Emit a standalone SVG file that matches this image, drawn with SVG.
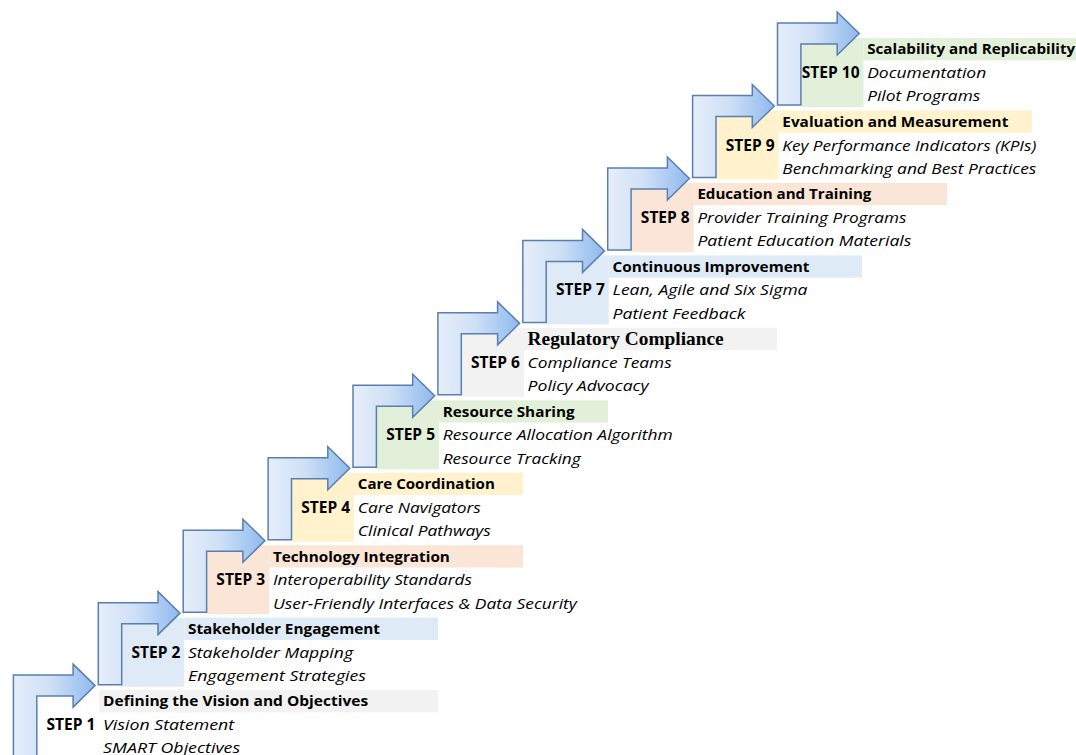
<svg xmlns="http://www.w3.org/2000/svg" xmlns:xlink="http://www.w3.org/1999/xlink" width="1076" height="755" viewBox="0 0 1076 755">
  <defs>
    <linearGradient id="arrowFill" x1="0" y1="0" x2="1" y2="0">
      <stop offset="0" stop-color="#e6eefa"/>
      <stop offset="0.45" stop-color="#cfe0f6"/>
      <stop offset="1" stop-color="#8fb9ee"/>
    </linearGradient>
    <!-- bent arrow: stem rises, then turns right into the arrowhead -->
    <path id="bentArrow" d="M0,82 L0,0 L59.7,0 L59.7,-11 L81.7,10.5 L59.7,32 L59.7,21 L23.4,21 L23.4,82 Z"/>
  </defs>
  <style>
    .arrow { fill: url(#arrowFill); stroke: #5a7fae; stroke-width: 1.5; stroke-linejoin: miter; }
    .step { font-family: "Open Sans", "Noto Sans", sans-serif; font-weight: bold; font-size: 15.5px; fill: #000; text-anchor: end; }
    .title { font-family: "Open Sans", "Noto Sans", sans-serif; font-weight: bold; font-size: 15px; fill: #000; }
    .serifTitle { font-family: "Liberation Serif", "Times New Roman", serif; font-weight: bold; font-size: 19.5px; fill: #000; }
    .item { font-family: "Open Sans", "Noto Sans", sans-serif; font-style: italic; font-size: 15px; fill: #000; }
    .gray { fill: #f2f2f2; }
    .blue { fill: #deebf7; }
    .peach { fill: #fbe5d6; }
    .yellow { fill: #fff2cc; }
    .green { fill: #e2f0d9; }
  </style>

  <rect width="1076" height="755" fill="#ffffff"/>

  <!-- shaded cells -->
  <g id="step1">
    <rect class="gray" x="99.4" y="690.1" width="338.6" height="22.3"/>
    <text class="step" x="95.4" y="730.1">STEP 1</text>
    <text class="title" x="103.1" y="706.4" textLength="265" lengthAdjust="spacingAndGlyphs">Defining the Vision and Objectives</text>
    <text class="item" x="103.1" y="730.1" textLength="131" lengthAdjust="spacingAndGlyphs">Vision Statement</text>
    <text class="item" x="103.1" y="753.4" textLength="137" lengthAdjust="spacingAndGlyphs">SMART Objectives</text>
  </g>

  <g id="step2">
    <rect class="blue" x="121.7" y="617.65" width="62.6" height="69"/>
    <rect class="blue" x="184.3" y="617.65" width="253.7" height="22.3"/>
    <text class="step" x="180.3" y="657.65">STEP 2</text>
    <text class="title" x="188" y="633.95" textLength="192" lengthAdjust="spacingAndGlyphs">Stakeholder Engagement</text>
    <text class="item" x="188" y="657.65" textLength="165" lengthAdjust="spacingAndGlyphs">Stakeholder Mapping</text>
    <text class="item" x="188" y="680.95" textLength="178" lengthAdjust="spacingAndGlyphs">Engagement Strategies</text>
  </g>

  <g id="step3">
    <rect class="peach" x="206.6" y="545.2" width="62.6" height="69"/>
    <rect class="peach" x="269.2" y="545.2" width="253.8" height="22.3"/>
    <text class="step" x="265.2" y="585.2">STEP 3</text>
    <text class="title" x="272.9" y="561.5" textLength="177" lengthAdjust="spacingAndGlyphs">Technology Integration</text>
    <text class="item" x="272.9" y="585.2" textLength="199" lengthAdjust="spacingAndGlyphs">Interoperability Standards</text>
    <text class="item" x="272.9" y="608.5" textLength="304" lengthAdjust="spacingAndGlyphs">User-Friendly Interfaces &amp; Data Security</text>
  </g>

  <g id="step4">
    <rect class="yellow" x="291.5" y="472.75" width="62.6" height="69"/>
    <rect class="yellow" x="354.1" y="472.75" width="168.9" height="22.3"/>
    <text class="step" x="350.1" y="512.75">STEP 4</text>
    <text class="title" x="357.8" y="489.05" textLength="137" lengthAdjust="spacingAndGlyphs">Care Coordination</text>
    <text class="item" x="357.8" y="512.75" textLength="123" lengthAdjust="spacingAndGlyphs">Care Navigators</text>
    <text class="item" x="357.8" y="536.05" textLength="133" lengthAdjust="spacingAndGlyphs">Clinical Pathways</text>
  </g>

  <g id="step5">
    <rect class="green" x="376.4" y="400.3" width="62.6" height="69"/>
    <rect class="green" x="439" y="400.3" width="169" height="22.3"/>
    <text class="step" x="435" y="440.3">STEP 5</text>
    <text class="title" x="442.7" y="416.6" textLength="132" lengthAdjust="spacingAndGlyphs">Resource Sharing</text>
    <text class="item" x="442.7" y="440.3" textLength="230" lengthAdjust="spacingAndGlyphs">Resource Allocation Algorithm</text>
    <text class="item" x="442.7" y="463.6" textLength="138" lengthAdjust="spacingAndGlyphs">Resource Tracking</text>
  </g>

  <g id="step6">
    <rect class="gray" x="461.3" y="327.85" width="62.6" height="69"/>
    <rect class="gray" x="523.9" y="327.85" width="253.1" height="22.3"/>
    <text class="step" x="519.9" y="367.85">STEP 6</text>
    <text class="serifTitle" x="527.6" y="344.9" textLength="196" lengthAdjust="spacingAndGlyphs">Regulatory Compliance</text>
    <text class="item" x="527.6" y="367.85" textLength="144" lengthAdjust="spacingAndGlyphs">Compliance Teams</text>
    <text class="item" x="527.6" y="391.15" textLength="121" lengthAdjust="spacingAndGlyphs">Policy Advocacy</text>
  </g>

  <g id="step7">
    <rect class="blue" x="546.2" y="255.4" width="62.6" height="69"/>
    <rect class="blue" x="608.8" y="255.4" width="253.2" height="22.3"/>
    <text class="step" x="604.8" y="295.4">STEP 7</text>
    <text class="title" x="612.5" y="271.7" textLength="197" lengthAdjust="spacingAndGlyphs">Continuous Improvement</text>
    <text class="item" x="612.5" y="295.4" textLength="195" lengthAdjust="spacingAndGlyphs">Lean, Agile and Six Sigma</text>
    <text class="item" x="612.5" y="318.7" textLength="133" lengthAdjust="spacingAndGlyphs">Patient Feedback</text>
  </g>

  <g id="step8">
    <rect class="peach" x="631.1" y="182.95" width="62.6" height="69"/>
    <rect class="peach" x="693.7" y="182.95" width="253.3" height="22.3"/>
    <text class="step" x="689.7" y="222.95">STEP 8</text>
    <text class="title" x="697.4" y="199.25" textLength="174" lengthAdjust="spacingAndGlyphs">Education and Training</text>
    <text class="item" x="697.4" y="222.95" textLength="209" lengthAdjust="spacingAndGlyphs">Provider Training Programs</text>
    <text class="item" x="697.4" y="246.25" textLength="214" lengthAdjust="spacingAndGlyphs">Patient Education Materials</text>
  </g>

  <g id="step9">
    <rect class="yellow" x="716" y="110.5" width="62.6" height="69"/>
    <rect class="yellow" x="778.6" y="110.5" width="253.4" height="22.3"/>
    <text class="step" x="774.6" y="150.5">STEP 9</text>
    <text class="title" x="782.3" y="126.8" textLength="226" lengthAdjust="spacingAndGlyphs">Evaluation and Measurement</text>
    <text class="item" x="782.3" y="150.5" textLength="254" lengthAdjust="spacingAndGlyphs">Key Performance Indicators (KPIs)</text>
    <text class="item" x="782.3" y="173.8" textLength="254" lengthAdjust="spacingAndGlyphs">Benchmarking and Best Practices</text>
  </g>

  <g id="step10">
    <rect class="green" x="800.9" y="38.05" width="62.6" height="69"/>
    <rect class="green" x="863.5" y="38.05" width="212.5" height="22.3"/>
    <text class="step" x="859.5" y="78.05">STEP 10</text>
    <text class="title" x="867.2" y="54.35" textLength="208" lengthAdjust="spacingAndGlyphs">Scalability and Replicability</text>
    <text class="item" x="867.2" y="78.05" textLength="119" lengthAdjust="spacingAndGlyphs">Documentation</text>
    <text class="item" x="867.2" y="101.35" textLength="113" lengthAdjust="spacingAndGlyphs">Pilot Programs</text>
  </g>

  <!-- staircase of bent arrows -->
  <g id="connectors">
    <use xlink:href="#bentArrow" class="arrow" transform="translate(13.4,675.1)"/>
    <use xlink:href="#bentArrow" class="arrow" transform="translate(98.3,602.65)"/>
    <use xlink:href="#bentArrow" class="arrow" transform="translate(183.2,530.2)"/>
    <use xlink:href="#bentArrow" class="arrow" transform="translate(268.1,457.75)"/>
    <use xlink:href="#bentArrow" class="arrow" transform="translate(353,385.3)"/>
    <use xlink:href="#bentArrow" class="arrow" transform="translate(437.9,312.85)"/>
    <use xlink:href="#bentArrow" class="arrow" transform="translate(522.8,240.4)"/>
    <use xlink:href="#bentArrow" class="arrow" transform="translate(607.7,167.95)"/>
    <use xlink:href="#bentArrow" class="arrow" transform="translate(692.6,95.5)"/>
    <use xlink:href="#bentArrow" class="arrow" transform="translate(777.5,23.05)"/>
  </g>
</svg>
